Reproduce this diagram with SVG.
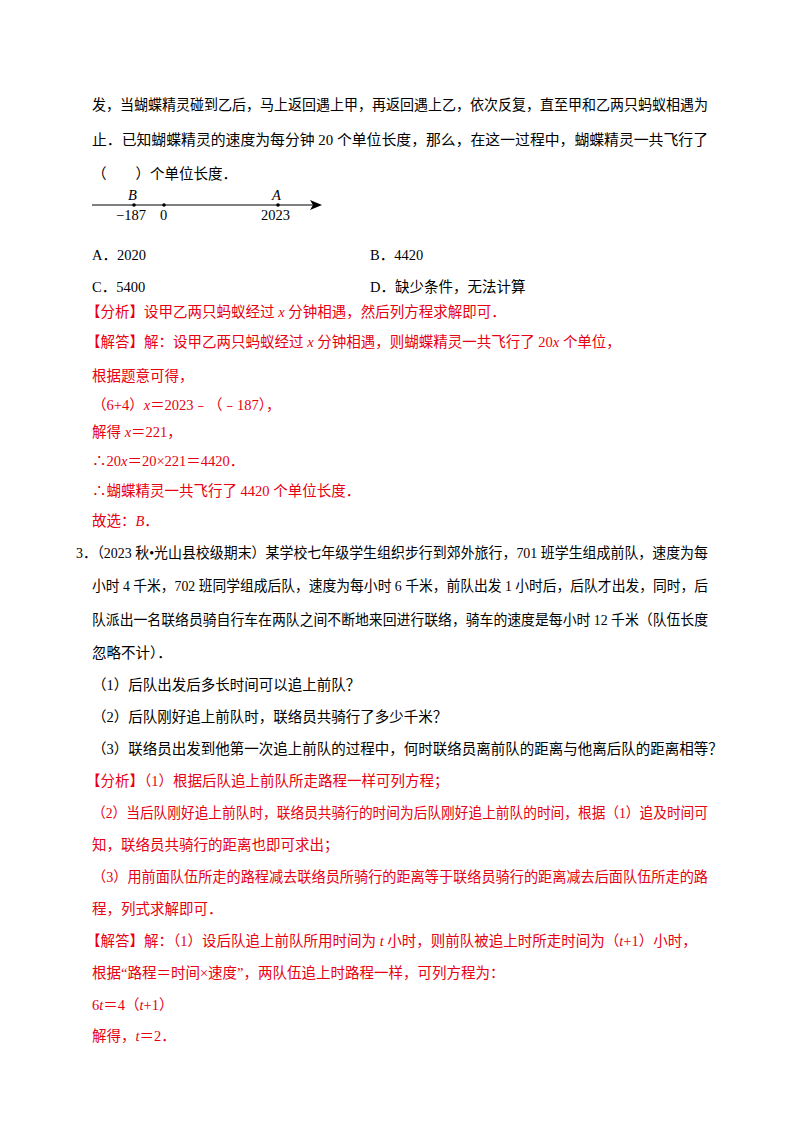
<svg xmlns="http://www.w3.org/2000/svg" width="800" height="1132" viewBox="0 0 800 1132">
<style>
text{font-family:"Liberation Serif","Noto Sans CJK SC",serif;font-size:14.5px;fill:#000}
.r{fill:#e60012}
.i{font-style:italic}
</style>
<rect width="800" height="1132" fill="#fff"/>
<text x="92" y="110" textLength="616" lengthAdjust="spacingAndGlyphs">发，当蝴蝶精灵碰到乙后，马上返回遇上甲，再返回遇上乙，依次反复，直至甲和乙两只蚂蚁相遇为</text>
<text x="92" y="145" textLength="616" lengthAdjust="spacingAndGlyphs">止．已知蝴蝶精灵的速度为每分钟 20 个单位长度，那么，在这一过程中，蝴蝶精灵一共飞行了</text>
<text x="92" y="179">（　　）个单位长度．</text>
<g id="numberline">
<line x1="92" y1="205" x2="315" y2="205" stroke="#000" stroke-width="1.2"/>
<path d="M322,205 L310,200 L313,205 L310,210 Z" fill="#000"/>
<circle cx="134" cy="205" r="1.8"/><circle cx="164" cy="205" r="1.8"/><circle cx="278" cy="205" r="1.8"/>
<text x="128" y="200" class="i">B</text><text x="272" y="200" class="i">A</text>
<text x="116" y="220">−187</text><text x="160" y="220">0</text><text x="261" y="220">2023</text>
</g>
<text x="92" y="260">A．2020</text><text x="370" y="260">B．4420</text>
<text x="92" y="292">C．5400</text><text x="370" y="292">D．缺少条件，无法计算</text>
<text x="86" y="317" class="r">【分析】设甲乙两只蚂蚁经过 <tspan class="i">x</tspan> 分钟相遇，然后列方程求解即可．</text>
<text x="86" y="347" class="r">【解答】解：设甲乙两只蚂蚁经过 <tspan class="i">x</tspan> 分钟相遇，则蝴蝶精灵一共飞行了 20<tspan class="i">x</tspan> 个单位，</text>
<text x="92" y="381" class="r">根据题意可得，</text>
<text x="92" y="410" class="r">（6+4）<tspan class="i">x</tspan>＝2023﹣（﹣187），</text>
<text x="92" y="437" class="r">解得 <tspan class="i">x</tspan>＝221，</text>
<text x="92" y="466" class="r">∴20<tspan class="i">x</tspan>＝20×221＝4420．</text>
<text x="92" y="496" class="r">∴蝴蝶精灵一共飞行了 4420 个单位长度．</text>
<text x="92" y="526" class="r">故选：<tspan class="i">B</tspan>．</text>
<text x="76" y="558" textLength="632" lengthAdjust="spacingAndGlyphs">3．（2023 秋•光山县校级期末）某学校七年级学生组织步行到郊外旅行，701 班学生组成前队，速度为每</text>
<text x="92" y="591" textLength="616" lengthAdjust="spacingAndGlyphs">小时 4 千米，702 班同学组成后队，速度为每小时 6 千米，前队出发 1 小时后，后队才出发，同时，后</text>
<text x="92" y="625" textLength="616" lengthAdjust="spacingAndGlyphs">队派出一名联络员骑自行车在两队之间不断地来回进行联络，骑车的速度是每小时 12 千米（队伍长度</text>
<text x="92" y="658">忽略不计）．</text>
<text x="92" y="690">（1）后队出发后多长时间可以追上前队？</text>
<text x="92" y="722">（2）后队刚好追上前队时，联络员共骑行了多少千米？</text>
<text x="92" y="754">（3）联络员出发到他第一次追上前队的过程中，何时联络员离前队的距离与他离后队的距离相等？</text>
<text x="86" y="786" class="r">【分析】（1）根据后队追上前队所走路程一样可列方程；</text>
<text x="92" y="818" class="r" textLength="616" lengthAdjust="spacingAndGlyphs">（2）当后队刚好追上前队时，联络员共骑行的时间为后队刚好追上前队的时间，根据（1）追及时间可</text>
<text x="92" y="850" class="r">知，联络员共骑行的距离也即可求出；</text>
<text x="92" y="882" class="r" textLength="616" lengthAdjust="spacingAndGlyphs">（3）用前面队伍所走的路程减去联络员所骑行的距离等于联络员骑行的距离减去后面队伍所走的路</text>
<text x="92" y="914" class="r">程，列式求解即可．</text>
<text x="86" y="946" class="r">【解答】解：（1）设后队追上前队所用时间为 <tspan class="i">t</tspan> 小时，则前队被追上时所走时间为（<tspan class="i">t</tspan>+1）小时，</text>
<text x="92" y="978" class="r">根据“路程＝时间×速度”，两队伍追上时路程一样，可列方程为：</text>
<text x="92" y="1010" class="r">6<tspan class="i">t</tspan>＝4（<tspan class="i">t</tspan>+1）</text>
<text x="92" y="1041" class="r">解得，<tspan class="i">t</tspan>＝2．</text>
</svg>
